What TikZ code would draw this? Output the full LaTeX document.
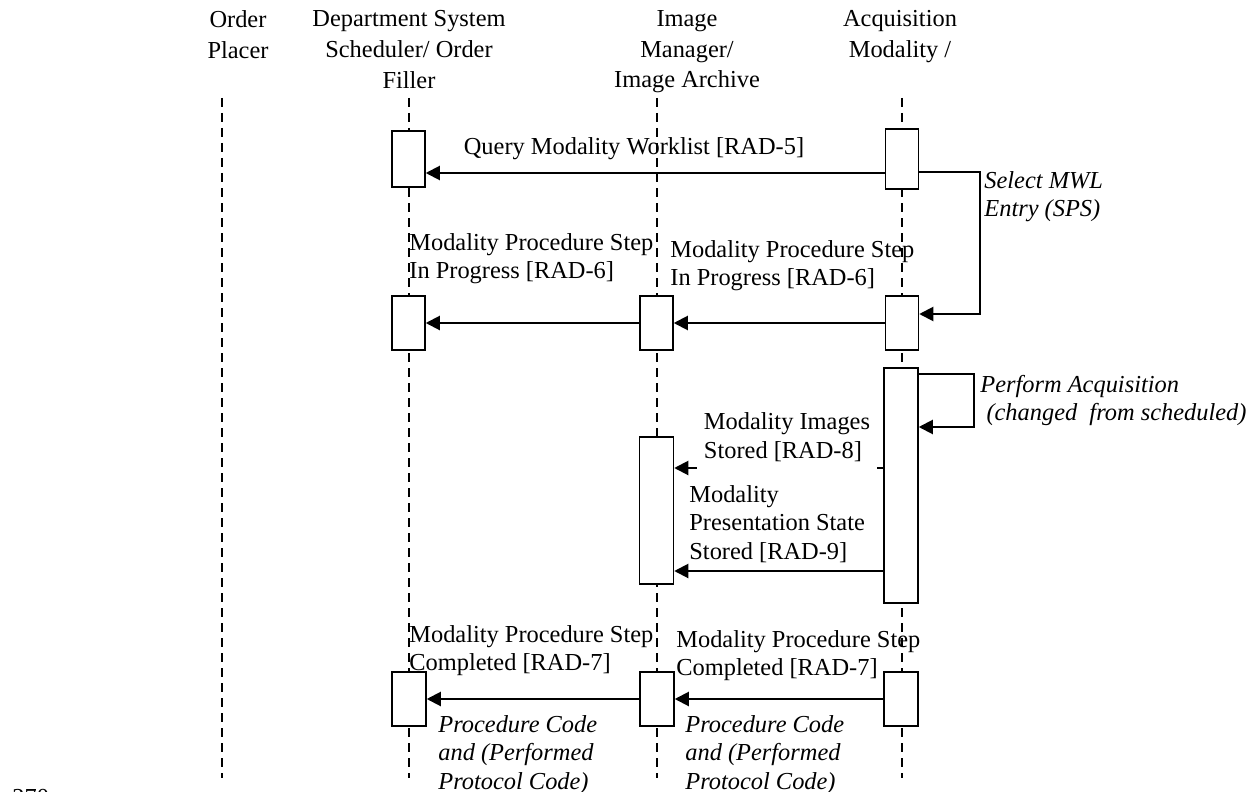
\documentclass[tikz,border=0pt]{standalone}
\usepackage{fontspec}
\setmainfont{Liberation Serif}
\usetikzlibrary{arrows.meta}
\begin{document}
\begin{tikzpicture}[x=0.5pt,y=-0.5pt,
  every node/.style={font=\fontsize{12.2}{14.2}\selectfont, inner sep=0pt},
  actor/.style={align=center, anchor=north, font=\fontsize{12.2}{15.4}\selectfont},
  lifeline/.style={dash pattern=on 4.5pt off 3pt, line width=0.6pt},
  actbox/.style={draw, fill=white, line width=0.75pt, minimum width=16.5pt},
  msg/.style={line width=1pt, -{Triangle[length=7pt,width=7pt]}},
  lbl/.style={align=left, anchor=north west},
  note/.style={lbl, font=\fontsize{12.2}{14.2}\selectfont\itshape}]
\useasboundingbox (0,0) rectangle (1248,792);
% actors
\node[actor] (op) at (238,10) {Order\\Placer};
\node[actor] (dss) at (409,10) {Department System\\Scheduler/ Order\\Filler};
\node[actor] (im) at (687,10) {Image\\Manager/\\Image Archive};
\node[actor] (am) at (900,10) {Acquisition\\Modality /};
% lifelines
\coordinate (opT) at (222,98);   \coordinate (opB) at (222,778);
\coordinate (dssT) at (409,98);  \coordinate (dssB) at (409,778);
\coordinate (imT) at (657,98);   \coordinate (imB) at (657,778);
\coordinate (amT) at (902,98);   \coordinate (amB) at (902,778);
\draw[lifeline] (opT) -- (opB);
\draw[lifeline] (dssT) -- (dssB);
\draw[lifeline] (imT) -- (imB);
\draw[lifeline] (amT) -- (amB);
% activations
\node[actbox, minimum height=28pt] (dss1) at (408.5,159) {};
\node[actbox, minimum height=30pt] (am1) at (902,159) {};
\node[actbox, minimum height=27pt] (dss2) at (408.5,323) {};
\node[actbox, minimum height=27pt] (im2) at (656.5,323) {};
\node[actbox, minimum height=27pt] (am2) at (902,323) {};
\node[actbox, minimum width=17pt, minimum height=117.5pt] (am3) at (901,485.5) {};
\node[actbox, minimum width=17pt, minimum height=73.5pt] (im3) at (656.5,510.5) {};
\node[actbox, minimum width=17pt, minimum height=27pt] (dss4) at (409,699) {};
\node[actbox, minimum width=17pt, minimum height=27pt] (im4) at (657,699) {};
\node[actbox, minimum width=17pt, minimum height=27pt] (am4) at (901,699) {};
% messages
\draw[msg] ([yshift=-7pt]am1.west) -- ([yshift=-7pt]dss1.east);
\draw[msg] ([yshift=-6.5pt]am1.east) -- ++(61,0) |- ([yshift=4.5pt]am2.east);
\draw[msg] (am2.west) -- (im2.east);
\draw[msg] (im2.west) -- (dss2.east);
\draw[msg] ([yshift=56pt]am3.east) -- ++(55,0) |- ([yshift=29.25pt]am3.east);
\coordinate (s8) at ([yshift=8.75pt]am3.west);
\coordinate (s9) at ([yshift=-42.75pt]am3.west);
\draw[msg] (s8) -- (s8 -| im3.east);
\draw[msg] (s9) -- (s9 -| im3.east);
\draw[msg] (am4.west) -- (im4.east);
\draw[msg] (im4.west) -- (dss4.east);
% labels
\node[anchor=north] (q5) at (634,137) {Query Modality Worklist [RAD-5]};
\node[note] (mwl) at (984,171) {Select MWL\\Entry (SPS)};
\node[lbl] (ip1) at (409,233) {Modality Procedure Step\\In Progress [RAD-6]};
\node[lbl] (ip2) at (670,240) {Modality Procedure Step\\In Progress [RAD-6]};
\node[note] (acq) at (980,375) {Perform Acquisition\\\ (changed\ \ from scheduled)};
\node[align=left, fill=white, minimum width=90pt, minimum height=33pt] (img) at (787,437) {Modality Images\\Stored [RAD-8]};
\node[lbl] (pst) at (689,485) {Modality\\Presentation State\\Stored [RAD-9]};
\node[lbl] (cp1) at (409,625) {Modality Procedure Step\\Completed [RAD-7]};
\node[lbl] (cp2) at (676,630) {Modality Procedure Step\\Completed [RAD-7]};
\node[note] (pc1) at (438,715) {Procedure Code\\and (Performed\\Protocol Code)};
\node[note] (pc2) at (685,715) {Procedure Code\\and (Performed\\Protocol Code)};
\node[anchor=north west] (ln) at (12,789) {270};
\end{tikzpicture}
\end{document}
